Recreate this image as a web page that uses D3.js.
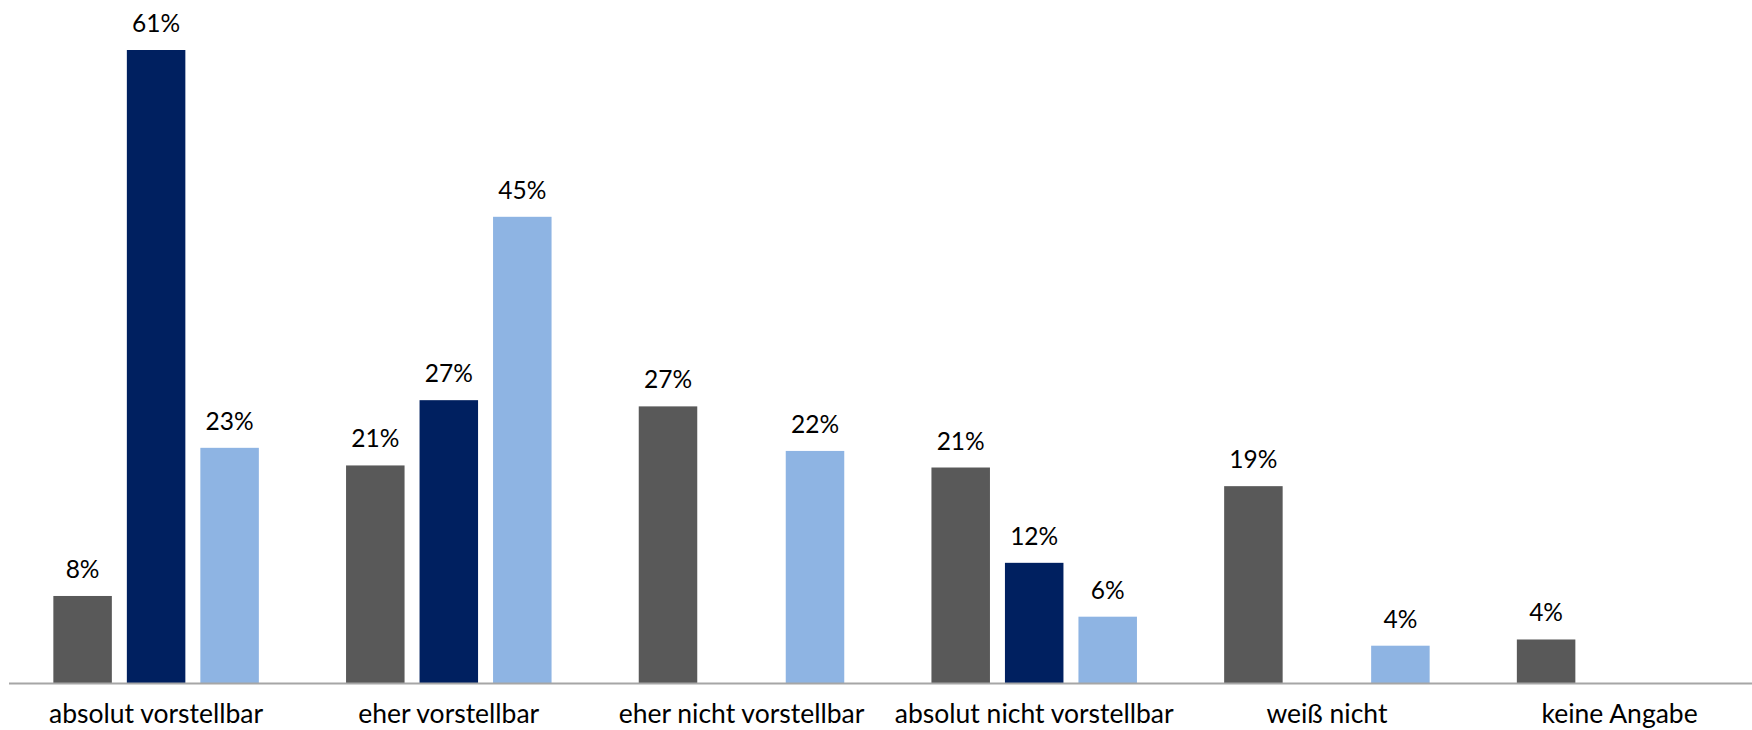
<!DOCTYPE html>
<html lang="de">
<head>
<meta charset="UTF-8">
<title>Vorstellbarkeit</title>
<script src="https://d3js.org/d3.v7.min.js"></script>
<style>
  body { margin: 0; background: #fff; }
  svg { display: block; }
  .val { font-family: Lato, "Open Sans", sans-serif; font-size: 24.5px; fill: #000; text-anchor: middle; }
  .cat { font-family: Lato, "Open Sans", sans-serif; font-size: 26.5px; fill: #000; text-anchor: middle; }
</style>
</head>
<body>
<svg width="1752" height="730"></svg>
<script>
const categories = ["absolut vorstellbar", "eher vorstellbar", "eher nicht vorstellbar",
                    "absolut nicht vorstellbar", "weiß nicht", "keine Angabe"];
const seriesNames = ["Gruppe A", "Gruppe B", "Gruppe C"];
const seriesA = [8.4, 21.0, 26.7, 20.8, 19.0, 4.2];
const seriesB = [61.1, 27.3, null, 11.6, null, null];
const seriesC = [22.7, 45.0, 22.4, 6.4, 3.6, null];
const colors = ["#595959", "#002060", "#8EB4E3"];

const svg = d3.select("svg"),
      width = +svg.attr("width"),
      height = +svg.attr("height");

const baseY = 683;
const y = d3.scaleLinear().domain([0, 65]).range([baseY, baseY - 65 * 10.36]);

// categories are wider than the visible area on the right, like the source
const x0 = d3.scaleBand().domain(categories).range([9.75, 9.75 + 6 * 292.7]).padding(0);
const x1 = d3.scaleBand().domain(seriesNames).range([-110.25, 110.25])
             .paddingInner(0.204).paddingOuter(0.102);

const allSeries = [seriesA, seriesB, seriesC];
const rows = [];
categories.forEach((c, i) => {
  allSeries.forEach((s, j) => {
    if (s[i] != null) rows.push({ cat: c, series: seriesNames[j], value: s[i], color: colors[j] });
  });
});

const cx = d => x0(d.cat) + x0.bandwidth() / 2 + x1(d.series);

svg.append("g").selectAll("rect")
  .data(rows)
  .join("rect")
  .attr("x", cx)
  .attr("y", d => y(d.value))
  .attr("width", x1.bandwidth())
  .attr("height", d => baseY - y(d.value))
  .attr("fill", d => d.color);

svg.append("g").selectAll("text")
  .data(rows)
  .join("text")
  .attr("class", "val")
  .attr("x", d => cx(d) + x1.bandwidth() / 2)
  .attr("y", d => y(d.value) - 18)
  .text(d => Math.round(d.value) + "%");

// x axis line
svg.append("line")
  .attr("x1", 9).attr("x2", width)
  .attr("y1", baseY + 0.5).attr("y2", baseY + 0.5)
  .attr("stroke", "#A6A6A6").attr("stroke-width", 2);

svg.append("g").selectAll("text")
  .data(categories)
  .join("text")
  .attr("class", "cat")
  .attr("x", d => x0(d) + x0.bandwidth() / 2)
  .attr("y", 723)
  .text(d => d);
</script>
</body>
</html>
